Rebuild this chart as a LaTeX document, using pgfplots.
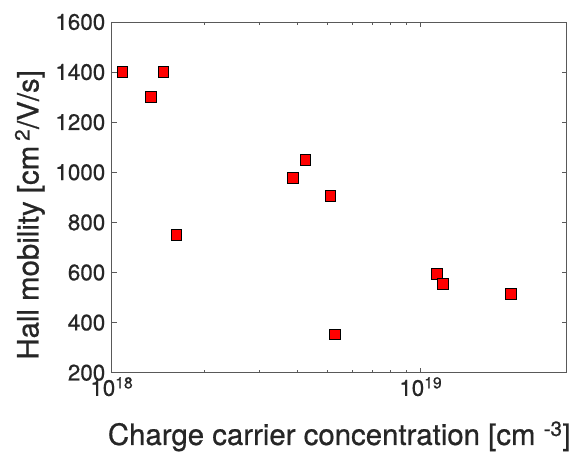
\documentclass[border=0pt]{standalone}
\usepackage{fontspec}
\setmainfont{TeX Gyre Heros}
\usepackage{pgfplots}
\pgfplotsset{compat=1.18}

\begin{document}
\begin{tikzpicture}
\useasboundingbox (0bp,0bp) rectangle (573bp,452bp);
\begin{axis}[
    at={(111.7bp,79.3bp)}, anchor=south west,
    scale only axis,
    width=455bp, height=350.7bp,
    xmode=log,
    xmin=1e18, xmax=2.97e19,
    ymin=200, ymax=1600,
    xtick={1e18,1e19},
    xticklabels={10\textsuperscript{18},10\textsuperscript{19}},
    ytick={200,400,...,1600},
    /pgf/number format/assume math mode=true,
    /pgf/number format/set thousands separator={},
    tick align=inside,
    major tick length=5bp,
    minor tick length=3bp,
    axis line style={black!65, line width=0.8bp},
    every tick/.style={black!65, line width=0.8bp},
    ticklabel style={font=\fontsize{22.5}{22.5}\selectfont\addfontfeature{FakeBold=0.7}, text=black!85},
    xticklabel style={yshift=-1bp},
    yticklabel style={xshift=-3bp},
    xlabel={Charge carrier concentration [cm \textsuperscript{-3}]},
    ylabel={Hall mobility [cm\,\textsuperscript{2}/V/s]},
    label style={font=\fontsize{29.5}{29.5}\selectfont\addfontfeature{FakeBold=0.7}, text=black!85},
    xlabel style={at={(axis description cs:0.5,-0.206)}, anchor=base},
    ylabel style={at={(axis description cs:-0.18,0.45)}, anchor=center},
]
\addplot[only marks, mark=square*, mark size=5.3bp,
    mark options={fill=red, draw=black, line width=1bp}] coordinates {
    (1.082e18,1400) (1.337e18,1300) (1.469e18,1400) (1.618e18,750)
    (3.853e18,978) (4.233e18,1050) (5.099e18,905) (5.28e18,353)
    (1.131e19,595) (1.179e19,555) (1.96e19,515)
};
\end{axis}
\end{tikzpicture}
\end{document}
